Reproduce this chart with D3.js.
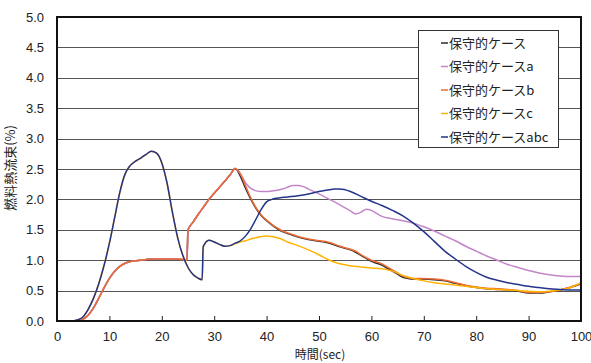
<!DOCTYPE html>
<html>
<head>
<meta charset="utf-8">
<script src="https://cdn.jsdelivr.net/npm/d3@7/dist/d3.min.js"></script>
<style>
  html, body { margin: 0; padding: 0; background: #fff; }
  svg { display: block; }
  text { font-family: "Liberation Sans", Arial, sans-serif; fill: #222; }
  .jp { font-family: "Noto Sans CJK JP", "Noto Sans", sans-serif; }
</style>
</head>
<body>
<svg id="chart" width="591" height="363"></svg>
<script>
// Fuel heat flux (%) over time (sec) for each case
const seriesNames = ["保守的ケース", "保守的ケースa", "保守的ケースb", "保守的ケースc", "保守的ケースabc"];
const seriesColors = ["#2a2a2a", "#c286c9", "#ef6b36", "#ffb300", "#23348a"];

const xTicks = [0, 10, 20, 30, 40, 50, 60, 70, 80, 90, 100];
const yTicks = [0, 0.5, 1, 1.5, 2, 2.5, 3, 3.5, 4, 4.5, 5];

// case b
const tB = [0, 4, 5, 6, 7, 8, 9, 10, 11, 12, 13, 14, 15, 16, 18, 20, 22, 24, 24.8, 25.0, 26, 27, 28, 29, 30, 31, 32, 33, 34,
  35, 36, 37, 38, 39, 40, 41, 42, 43, 44, 45, 46, 48, 50, 51, 52, 54, 56, 57, 58, 59, 60, 61, 62, 63, 64, 65, 66, 67, 68,
  70, 72, 74, 76, 78, 80, 82, 84, 86, 88, 90, 92, 94, 96, 98, 100];
const vB = [0, 0, 0.03, 0.1, 0.22, 0.38, 0.55, 0.7, 0.82, 0.9, 0.95, 0.98, 0.99, 1.0, 1.02, 1.02, 1.02, 1.01, 1.0, 1.5, 1.63, 1.76, 1.88, 2.0, 2.1, 2.2, 2.3, 2.4, 2.51,
  2.42, 2.22, 2.02, 1.86, 1.74, 1.66, 1.59, 1.53, 1.48, 1.45, 1.42, 1.39, 1.35, 1.32, 1.31, 1.29, 1.23, 1.18, 1.15, 1.09, 1.04, 1.0, 0.97, 0.94, 0.89, 0.84, 0.79, 0.74, 0.71, 0.70,
  0.70, 0.69, 0.67, 0.63, 0.59, 0.56, 0.54, 0.53, 0.52, 0.50, 0.47, 0.47, 0.48, 0.51, 0.56, 0.62];

// conservative case
const tBase = tB;
const vBase = [0, 0, 0.03, 0.1, 0.22, 0.38, 0.55, 0.7, 0.82, 0.9, 0.95, 0.98, 0.99, 1.0, 1.02, 1.02, 1.02, 1.01, 1.0, 1.5, 1.63, 1.76, 1.88, 2.0, 2.1, 2.2, 2.3, 2.4, 2.51,
  2.38, 2.18, 2.0, 1.85, 1.73, 1.65, 1.58, 1.52, 1.47, 1.44, 1.41, 1.38, 1.34, 1.31, 1.30, 1.28, 1.22, 1.17, 1.13, 1.08, 1.03, 0.98, 0.95, 0.92, 0.87, 0.82, 0.77, 0.72, 0.70, 0.69,
  0.69, 0.68, 0.66, 0.62, 0.58, 0.55, 0.53, 0.52, 0.51, 0.49, 0.46, 0.46, 0.48, 0.51, 0.55, 0.61];

// case a
const tA = [0, 4, 5, 6, 7, 8, 9, 10, 11, 12, 13, 14, 15, 16, 18, 20, 22, 24, 24.8, 25.0, 26, 27, 28, 29, 30, 31, 32, 33, 34,
  35, 36, 37, 38, 39, 40, 41, 42, 43, 44, 45, 46, 47, 48, 50, 52, 54, 56, 57, 58, 59, 60, 61, 62, 64, 66, 68,
  70, 72, 74, 76, 78, 80, 82, 84, 86, 88, 90, 92, 94, 96, 98, 100];
const vA = [0, 0, 0.03, 0.1, 0.22, 0.38, 0.55, 0.7, 0.82, 0.9, 0.95, 0.98, 0.99, 1.0, 1.02, 1.02, 1.02, 1.01, 1.0, 1.5, 1.63, 1.76, 1.88, 2.0, 2.1, 2.2, 2.3, 2.4, 2.51,
  2.42, 2.27, 2.18, 2.14, 2.13, 2.13, 2.14, 2.15, 2.17, 2.2, 2.23, 2.23, 2.21, 2.17, 2.09, 2.0, 1.91, 1.81, 1.76, 1.79, 1.84, 1.82, 1.77, 1.72, 1.68, 1.65, 1.61,
  1.55, 1.48, 1.4, 1.32, 1.23, 1.15, 1.07, 1.0, 0.93, 0.88, 0.83, 0.79, 0.76, 0.74, 0.73, 0.73];

// case abc
const tABC = [0, 3, 4, 5, 6, 7, 8, 9, 10, 11, 12, 13, 14, 15, 16, 17, 18, 19, 20, 21, 22, 23, 24, 25, 26, 27, 27.7, 27.9,
  29, 30, 31, 32, 33, 34, 35, 36, 37, 38, 39, 40, 41, 42, 44, 46, 48, 50, 52, 53, 54, 56, 58, 60, 62, 64, 66, 68,
  70, 72, 74, 76, 78, 80, 82, 84, 86, 88, 90, 92, 94, 96, 98, 100];
const vABC = [0, 0, 0.02, 0.07, 0.2, 0.38, 0.62, 0.92, 1.28, 1.7, 2.12, 2.42, 2.56, 2.63, 2.68, 2.74, 2.79, 2.76, 2.6, 2.27, 1.8, 1.38, 1.08, 0.88, 0.76, 0.7, 0.68, 1.22,
  1.33, 1.3, 1.26, 1.23, 1.24, 1.28, 1.32, 1.4, 1.52, 1.68, 1.84, 1.96, 2.0, 2.02, 2.04, 2.06, 2.09, 2.13, 2.16, 2.17, 2.17, 2.13, 2.05, 1.97, 1.9, 1.82, 1.73, 1.61,
  1.47, 1.31, 1.15, 1.02, 0.9, 0.8, 0.72, 0.67, 0.63, 0.6, 0.57, 0.55, 0.53, 0.52, 0.51, 0.51];

// case c
const tC = [0, 3, 4, 5, 6, 7, 8, 9, 10, 11, 12, 13, 14, 15, 16, 17, 18, 19, 20, 21, 22, 23, 24, 25, 26, 27, 27.7, 27.9,
  29, 30, 31, 32, 33, 34, 35, 36, 37, 38, 39, 40, 41, 42, 43, 44, 46, 48, 50, 52, 54, 56, 58, 60, 62, 64, 66, 68,
  70, 72, 74, 76, 78, 80, 82, 84, 86, 88, 90, 92, 94, 96, 98, 100];
const vC = [0, 0, 0.02, 0.07, 0.2, 0.38, 0.62, 0.92, 1.28, 1.7, 2.12, 2.42, 2.56, 2.63, 2.68, 2.74, 2.79, 2.76, 2.6, 2.27, 1.8, 1.38, 1.08, 0.88, 0.76, 0.7, 0.68, 1.22,
  1.33, 1.3, 1.26, 1.23, 1.24, 1.27, 1.3, 1.32, 1.35, 1.37, 1.39, 1.4, 1.39, 1.37, 1.34, 1.3, 1.24, 1.17, 1.09, 1.0, 0.94, 0.91, 0.89, 0.87, 0.86, 0.82, 0.75, 0.7,
  0.66, 0.63, 0.61, 0.59, 0.57, 0.55, 0.53, 0.52, 0.51, 0.5, 0.49, 0.48, 0.49, 0.51, 0.55, 0.63];

const seriesT = [tBase, tA, tB, tC, tABC];
const seriesV = [vBase, vA, vB, vC, vABC];

const svg = d3.select("#chart");
const plotLeft = 57, plotRight = 581, plotTop = 17, plotBottom = 321;

const x = d3.scaleLinear().domain([0, 100]).range([plotLeft, plotRight]);
const y = d3.scaleLinear().domain([0, 5]).range([plotBottom, plotTop]);

// horizontal grid lines
svg.append("g")
  .selectAll("line")
  .data(yTicks.filter(d => d > 0 && d < 5))
  .join("line")
  .attr("x1", plotLeft).attr("x2", plotRight)
  .attr("y1", d => Math.round(y(d)) + 0.5).attr("y2", d => Math.round(y(d)) + 0.5)
  .attr("stroke", "#555").attr("stroke-width", 1);

// series lines
const line = d3.line()
  .x(d => x(d[0]))
  .y(d => y(d[1]))
  .curve(d3.curveMonotoneX);

const plot = svg.append("g");
seriesNames.forEach((name, i) => {
  const pts = seriesT[i].map((t, k) => [t, seriesV[i][k]]);
  plot.append("path")
    .datum(pts)
    .attr("d", line)
    .attr("fill", "none")
    .attr("stroke", seriesColors[i])
    .attr("stroke-width", 1.5)
    .attr("stroke-linejoin", "round");
});

// x axis ticks pointing inward, labels below
const xAxis = d3.axisBottom(x).tickValues(xTicks).tickSize(-5).tickPadding(11).tickFormat(d3.format("d"));
const gx = svg.append("g").attr("transform", `translate(0,${plotBottom})`).call(xAxis);
gx.select(".domain").remove();
gx.selectAll(".tick line").attr("stroke", "#222");
gx.selectAll("text").attr("font-size", 13).attr("fill", "#222").attr("font-family", "Liberation Sans, Arial, sans-serif");

// y axis labels
const yAxis = d3.axisLeft(y).tickValues(yTicks).tickSize(0).tickPadding(13).tickFormat(d3.format(".1f"));
const gy = svg.append("g").attr("transform", `translate(${plotLeft},0)`).call(yAxis);
gy.select(".domain").remove();
gy.selectAll("text").attr("font-size", 13).attr("fill", "#222").attr("font-family", "Liberation Sans, Arial, sans-serif");

// plot frame
svg.append("rect")
  .attr("x", plotLeft).attr("y", plotTop)
  .attr("width", plotRight - plotLeft).attr("height", plotBottom - plotTop)
  .attr("fill", "none").attr("stroke", "#111").attr("stroke-width", 2);

// axis titles
svg.append("text")
  .attr("class", "jp")
  .attr("x", (plotLeft + plotRight) / 2 + 1).attr("y", 359)
  .attr("text-anchor", "middle").attr("font-size", 12)
  .text("時間(sec)");

svg.append("text")
  .attr("class", "jp")
  .attr("transform", "translate(15,168) rotate(-90)")
  .attr("text-anchor", "middle").attr("font-size", 13)
  .attr("fill", "#333")
  .text("燃料熱流束(%)");

// legend
const lg = svg.append("g");
lg.append("rect")
  .attr("x", 418.5).attr("y", 30.5).attr("width", 140).attr("height", 117)
  .attr("fill", "#fff").attr("stroke", "#333").attr("stroke-width", 1);
seriesNames.forEach((name, i) => {
  const cy = 43 + i * 23.5;
  lg.append("line")
    .attr("x1", 441).attr("x2", 448)
    .attr("y1", cy).attr("y2", cy)
    .attr("stroke", seriesColors[i]).attr("stroke-width", 1.5);
  lg.append("text")
    .attr("class", "jp")
    .attr("x", 449).attr("y", cy)
    .attr("dy", "0.35em")
    .attr("font-size", 13)
    .text(name);
});
</script>
</body>
</html>
